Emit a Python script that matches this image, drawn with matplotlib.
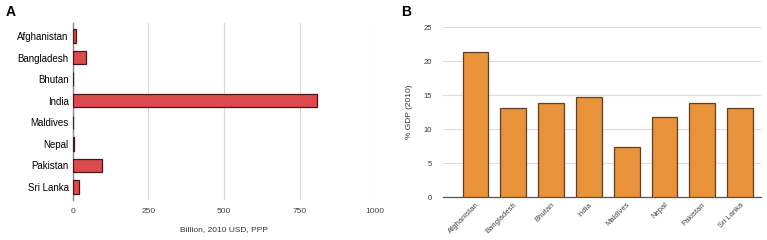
import numpy as np
import matplotlib.pyplot as plt

countries = ['Afghanistan', 'Bangladesh', 'Bhutan', 'India', 'Maldives', 'Nepal', 'Pakistan', 'Sri Lanka']
gdp_billion = [10, 43, 1.5, 807, 1, 5, 98, 20]
pct_gdp = [21.3, 13.1, 13.9, 14.7, 7.35, 11.8, 13.8, 13.1]

plt.rcParams['font.family'] = ['Liberation Sans', 'DejaVu Sans']

fig = plt.figure(figsize=(7.67, 2.4), dpi=100)

# panel A
ax1 = fig.add_axes([0.095, 0.167, 0.394, 0.737])
y = np.arange(len(countries))
ax1.barh(y, gdp_billion, height=0.62, color='#dd4a4e', edgecolor='#4a1616', linewidth=0.9, zorder=3)
ax1.set_yticks(y)
ax1.set_yticklabels(countries, fontsize=7)
ax1.invert_yaxis()
ax1.set_ylim(7.6, -0.6)
ax1.set_xlim(0, 1000)
ax1.set_xticks([0, 250, 500, 750, 1000])
ax1.tick_params(axis='x', labelsize=6, colors='#444444', length=0, pad=6)
ax1.tick_params(axis='y', length=0, pad=3)
ax1.grid(axis='x', color='#d8d8d8', linewidth=0.8, zorder=0)
for s in ['top', 'right', 'bottom']:
    ax1.spines[s].set_visible(False)
ax1.spines['left'].set_color('#888888')
ax1.spines['left'].set_linewidth(1.0)
ax1.set_xlabel('Billion, 2010 USD, PPP', fontsize=6, color='#333333', labelpad=8)

# panel B
ax2 = fig.add_axes([0.578, 0.179, 0.414, 0.708])
x = np.arange(len(countries))
ax2.bar(x, pct_gdp, width=0.68, color='#e8923a', edgecolor='#5e4025', linewidth=0.9, zorder=3)
ax2.set_xlim(-0.85, 7.55)
ax2.set_ylim(0, 25)
ax2.set_yticks([0, 5, 10, 15, 20, 25])
ax2.set_xticks(x)
ax2.set_xticklabels(countries, rotation=45, ha='right', rotation_mode='anchor', fontsize=5.5, color='#444444')
ax2.tick_params(axis='y', labelsize=5.5, colors='#333333', length=0, pad=8)
ax2.tick_params(axis='x', length=0, pad=3)
ax2.grid(axis='y', color='#dddddd', linewidth=0.8, zorder=0)
for s in ['top', 'right', 'left']:
    ax2.spines[s].set_visible(False)
ax2.spines['bottom'].set_color('#555555')
ax2.spines['bottom'].set_linewidth(0.9)
ax2.set_ylabel('% GDP (2010)', fontsize=6, color='#333333', labelpad=8)

fig.text(0.008, 0.935, 'A', fontsize=10, fontweight='bold')
fig.text(0.523, 0.935, 'B', fontsize=10, fontweight='bold')

fig.savefig('out.png', dpi=100)
